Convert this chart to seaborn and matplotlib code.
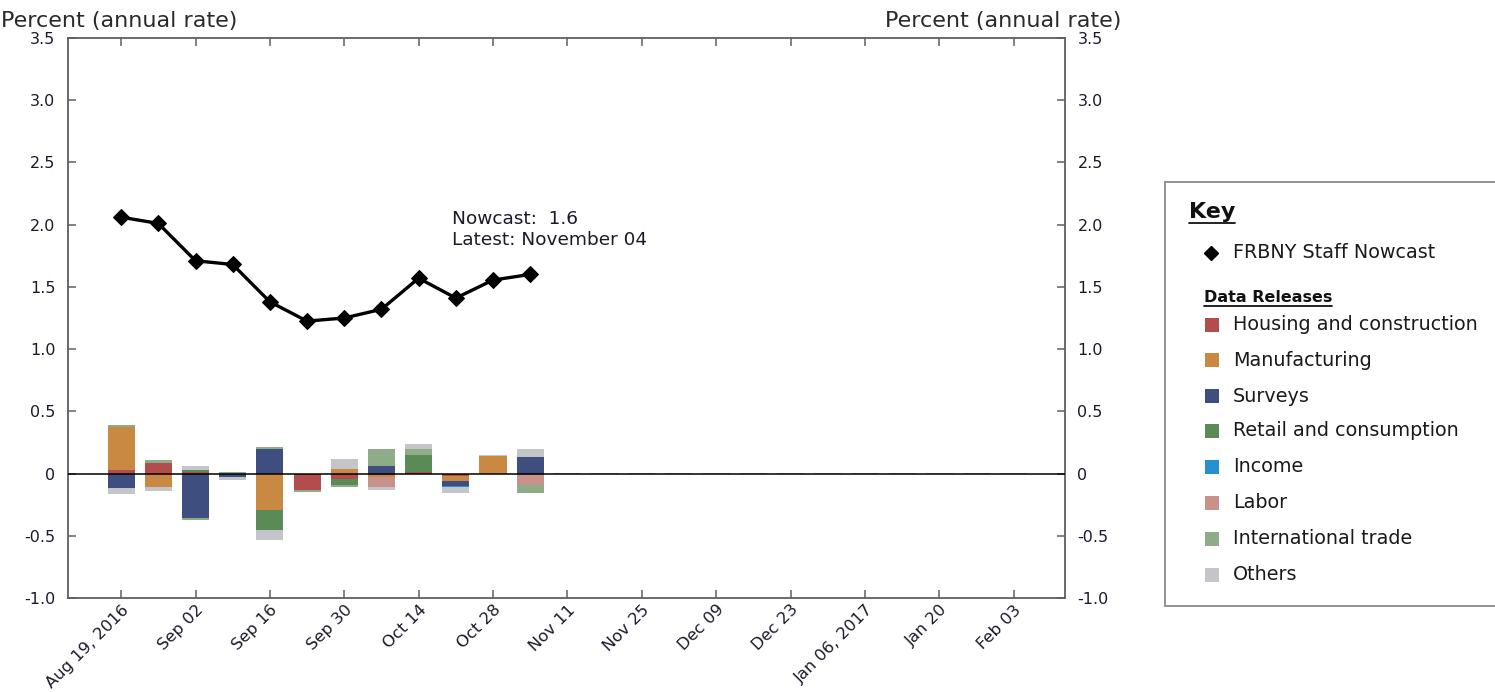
import matplotlib
matplotlib.use("Agg")
import matplotlib.pyplot as plt
import seaborn as sns
import pandas as pd
import numpy as np
from matplotlib.patches import Rectangle
from matplotlib.lines import Line2D

# ---------------- data ----------------
release_weeks = ["2016-08-19", "2016-08-26", "2016-09-02", "2016-09-09", "2016-09-16", "2016-09-23",
                 "2016-09-30", "2016-10-07", "2016-10-14", "2016-10-21", "2016-10-28", "2016-11-04"]
nowcast = [2.06, 2.01, 1.71, 1.68, 1.38, 1.225, 1.25, 1.32, 1.57, 1.41, 1.555, 1.60]

housing       = [0.027, 0.088, 0.010, 0.000, 0.000, -0.134, -0.040, -0.013, 0.015, -0.020, 0.000, 0.000]
manufacturing = [0.350, -0.107, 0.000, 0.000, -0.290, 0.000, 0.037, -0.013, 0.000, -0.037, 0.140, 0.000]
surveys       = [-0.120, 0.000, -0.360, -0.030, 0.196, 0.000, 0.000, 0.059, 0.000, -0.045, 0.000, 0.134]
retail        = [0.000, 0.000, 0.020, 0.000, -0.163, 0.000, -0.054, 0.000, 0.134, 0.000, 0.000, -0.013]
income        = [0.000, 0.000, 0.000, 0.000, 0.000, 0.000, 0.000, 0.000, 0.000, -0.010, 0.000, 0.000]
labor         = [0.000, 0.000, 0.000, 0.000, 0.000, 0.000, 0.000, -0.080, 0.000, 0.000, 0.000, -0.082]
trade         = [0.016, 0.020, -0.016, 0.015, 0.020, -0.016, -0.013, 0.142, 0.048, 0.000, 0.000, -0.062]
others        = [-0.046, -0.037, 0.030, -0.020, -0.080, 0.000, 0.080, -0.027, 0.037, -0.043, 0.006, 0.067]

pending_weeks = ["2016-11-11", "2016-11-18", "2016-11-25", "2016-12-02", "2016-12-09", "2016-12-16", "2016-12-23",
                 "2016-12-30", "2017-01-06", "2017-01-13", "2017-01-20", "2017-01-27", "2017-02-03"]
pending_others = [0.010, 0.010, 0.010, 0.010, 0.010, 0.010, 0.010, 0.010, 0.010, 0.010, 0.010, 0.010, 0.010]

categories = ["Housing and construction", "Manufacturing", "Surveys", "Retail and consumption",
              "Income", "Labor", "International trade", "Others"]
cat_colors = ["#b24c4d", "#c98943", "#3e4f7f", "#5a8a55", "#2592cf", "#c8918a", "#8fac89", "#c3c5cb"]

tick_dates = ["2016-08-19", "2016-09-02", "2016-09-16", "2016-09-30", "2016-10-14", "2016-10-28", "2016-11-11",
              "2016-11-25", "2016-12-09", "2016-12-23", "2017-01-06", "2017-01-20", "2017-02-03"]
tick_labels = ["Aug 19, 2016", "Sep 02", "Sep 16", "Sep 30", "Oct 14", "Oct 28", "Nov 11",
               "Nov 25", "Dec 09", "Dec 23", "Jan 06, 2017", "Jan 20", "Feb 03"]
y_ticks = [-1.0, -0.5, 0.0, 0.5, 1.0, 1.5, 2.0, 2.5, 3.0, 3.5]
y_labels = ["-1.0", "-0.5", "0", "0.5", "1.0", "1.5", "2.0", "2.5", "3.0", "3.5"]

# ---------------- figure ----------------
sns.set_theme(style="white")
plt.rcParams["font.family"] = ["DejaVu Sans"]

W, H = 1495, 692
fig = plt.figure(figsize=(W / 100, H / 100), dpi=100)
fig.patch.set_facecolor("white")

def fx(px):
    return px / W

def fy(py):
    return 1 - py / H

ax = fig.add_axes([fx(68), fy(598), fx(1065) - fx(68), fy(38) - fy(598)])
ax.set_facecolor("white")

dates = pd.to_datetime(release_weeks)
series = [housing, manufacturing, surveys, retail, income, labor, trade, others]
pos_base = np.zeros(len(dates))
neg_base = np.zeros(len(dates))
bar_w = 5.1
for vals, col in zip(series, cat_colors):
    v = np.array(vals, dtype=float)
    p = np.where(v > 0, v, 0.0)
    q = np.where(v < 0, v, 0.0)
    ax.bar(dates, p, bottom=pos_base, width=bar_w, color=col, linewidth=0, zorder=2)
    ax.bar(dates, q, bottom=neg_base, width=bar_w, color=col, linewidth=0, zorder=2)
    pos_base += p
    neg_base += q

pend = np.array(pending_others)
ax.bar(pd.to_datetime(pending_weeks), pend, bottom=-pend / 2, width=bar_w,
       color="#b5b7bd", linewidth=0, zorder=2)

ax.axhline(0, color="black", lw=1.1, zorder=4)

df = pd.DataFrame({"date": dates, "nowcast": nowcast})
sns.lineplot(data=df, x="date", y="nowcast", ax=ax, color="black", lw=2.4,
             marker="D", markersize=8, markeredgecolor="black", markerfacecolor="black", zorder=5)

ax.set_xlim(pd.Timestamp("2016-08-09"), pd.Timestamp("2017-02-12 16:00"))
ax.set_ylim(-1.0, 3.5)
ax.set_yticks(y_ticks)
ax.set_yticklabels(y_labels)
ax.set_xticks(pd.to_datetime(tick_dates))
ax.set_xticklabels(tick_labels, rotation=45, ha="right", rotation_mode="anchor")
ax.set_xlabel("")
ax.set_ylabel("")

for s in ax.spines.values():
    s.set_color("#5f5f5f")
    s.set_linewidth(1.3)
    s.set_visible(True)

ax.tick_params(axis="both", which="both", direction="in", length=6, width=1.1, color="#5f5f5f",
               top=True, right=True, bottom=True, left=True, labelcolor="#1a1a2a")
ax.tick_params(axis="y", labelright=True, pad=9, labelsize=11.5)
ax.tick_params(axis="x", pad=3, labelsize=11.8)

# titles
fig.text(fx(1), fy(27), "Percent (annual rate)", fontsize=16, color="#2a2a2a", ha="left", va="baseline")
fig.text(fx(1121), fy(27), "Percent (annual rate)", fontsize=16, color="#2a2a2a", ha="right", va="baseline")

# annotation
fig.text(fx(452), fy(219), f"Nowcast:  {nowcast[-1]:.1f}", fontsize=13.3, color="#1a1a2a", ha="left", va="center")
fig.text(fx(452), fy(240), "Latest: November 04", fontsize=13.3, color="#1a1a2a", ha="left", va="center")

# ---------------- key ----------------
lx0, ly0, ly1 = 1165, 182, 606
fig.add_artist(Line2D([fx(lx0), fx(W + 5)], [fy(ly0), fy(ly0)], transform=fig.transFigure, color="#8a8a8a", lw=1.3))
fig.add_artist(Line2D([fx(lx0), fx(W + 5)], [fy(ly1), fy(ly1)], transform=fig.transFigure, color="#8a8a8a", lw=1.3))
fig.add_artist(Line2D([fx(lx0), fx(lx0)], [fy(ly0), fy(ly1)], transform=fig.transFigure, color="#8a8a8a", lw=1.3))

t_key = fig.text(fx(1189), fy(212), "Key", fontsize=16, fontweight="bold", color="#111111", ha="left", va="center")
fig.add_artist(Line2D([fx(1211)], [fy(253)], transform=fig.transFigure, marker="D", markersize=7,
                      color="black", linestyle="none"))
fig.text(fx(1233), fy(252), "FRBNY Staff Nowcast", fontsize=13.8, color="#1a1a1a", ha="left", va="center")
t_dr = fig.text(fx(1204), fy(297), "Data Releases", fontsize=11.5, fontweight="bold", color="#111111",
                ha="left", va="center")

row_y = [325, 360, 396, 431, 467, 503, 539, 575]
for name, col, yy in zip(categories, cat_colors, row_y):
    fig.add_artist(Rectangle((fx(1205), fy(yy + 7)), fx(14), 14 / H, transform=fig.transFigure,
                             facecolor=col, edgecolor="none"))
    fig.text(fx(1233), fy(yy), name, fontsize=13.8, color="#1a1a1a", ha="left", va="center")

fig.canvas.draw()
r = fig.canvas.get_renderer()
for t in (t_key, t_dr):
    bb = t.get_window_extent(renderer=r)
    yb = bb.y0 - 1
    fig.add_artist(Line2D([bb.x0 / W, bb.x1 / W], [yb / H, yb / H], transform=fig.transFigure,
                          color="#111111", lw=1.3))

fig.savefig("out.png", dpi=100, facecolor="white")
